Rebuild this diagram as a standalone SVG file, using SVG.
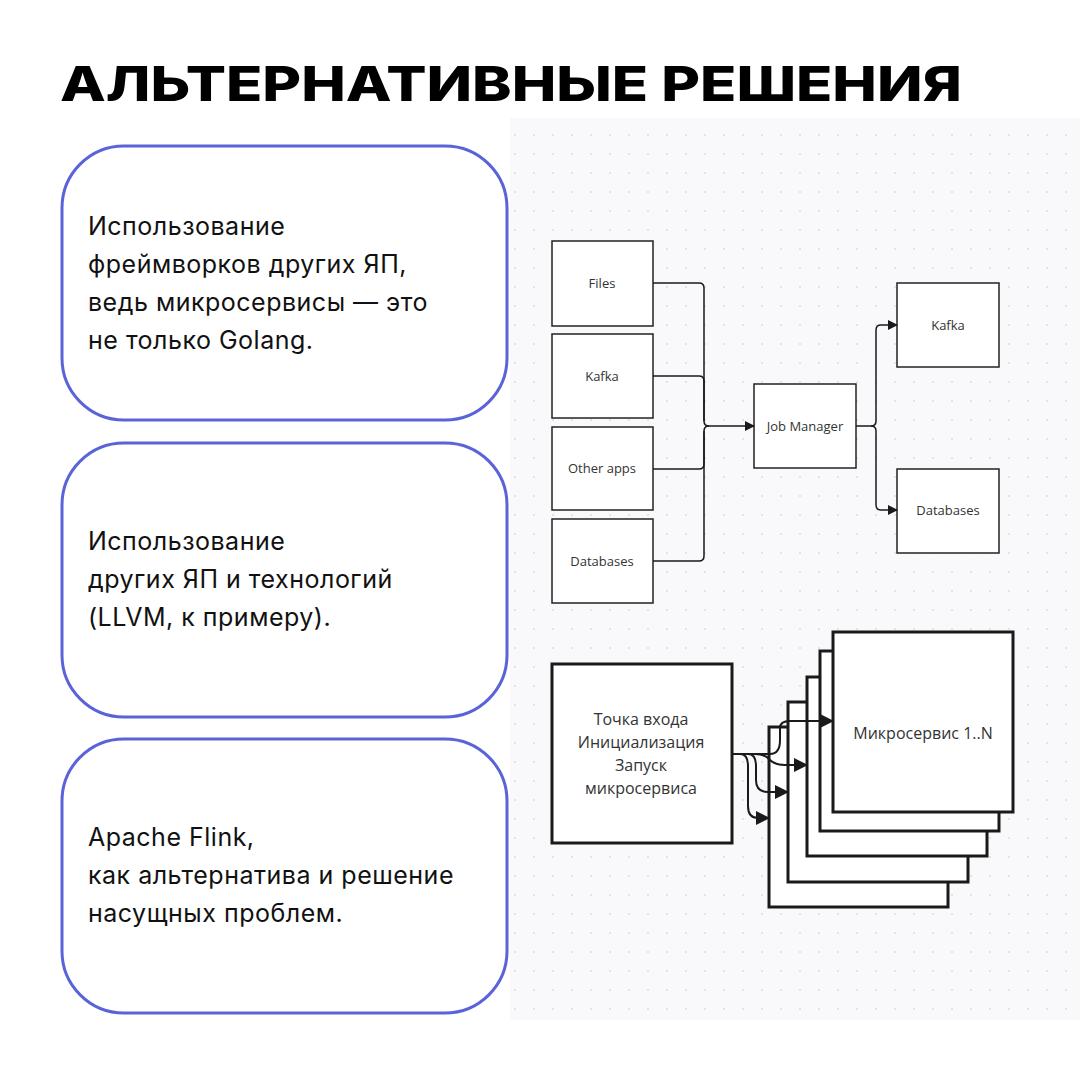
<svg xmlns="http://www.w3.org/2000/svg" width="1080" height="1080" viewBox="0 0 1080 1080">
<defs>
<pattern id="dots" width="19" height="19" patternUnits="userSpaceOnUse"><circle cx="2" cy="2" r="1" fill="#dcdce0"/></pattern>
<marker id="ah" markerWidth="10" markerHeight="10" refX="9" refY="5" orient="auto" markerUnits="userSpaceOnUse"><path d="M0,0 L10,5 L0,10 z" fill="#1a1a1a"/></marker>
<marker id="ah2" markerWidth="14" markerHeight="14" refX="13" refY="7" orient="auto" markerUnits="userSpaceOnUse"><path d="M0,0 L14,7 L0,14 z" fill="#1a1a1a"/></marker>
</defs>
<style>
.card{fill:#fff;stroke:#5a63d8;stroke-width:3}
.ct{font-family:Inter,"Noto Sans",sans-serif;font-size:25px;letter-spacing:0.5px;fill:#111}
.box{fill:#fff;stroke:#222;stroke-width:1.5}
.bt{font-family:"Open Sans","Noto Sans",sans-serif;font-size:13px;fill:#333;text-anchor:middle}
.tbox{fill:#fff;stroke:#1a1a1a;stroke-width:3}
.bt2{font-family:"Open Sans","Noto Sans",sans-serif;font-size:16px;fill:#333;text-anchor:middle}
.c{fill:none;stroke:#1a1a1a;stroke-width:1.5}
.c2{fill:none;stroke:#1a1a1a;stroke-width:2}
</style>
<rect width="1080" height="1080" fill="#fff"/>
<text x="60" y="101" font-family="Inter,'Noto Sans',sans-serif" font-size="48" font-weight="800" fill="#000" textLength="902" lengthAdjust="spacingAndGlyphs">АЛЬТЕРНАТИВНЫЕ РЕШЕНИЯ</text>
<rect x="510" y="118" width="570" height="902" fill="#f9f9fb"/>
<rect x="510" y="118" width="570" height="902" fill="url(#dots)"/>
<g id="card1"><rect class="card" x="62" y="146" width="445" height="274" rx="62"/>
<text class="ct" x="88" y="235">Использование</text><text class="ct" x="88" y="273">фреймворков других ЯП,</text><text class="ct" x="88" y="311">ведь микросервисы — это</text><text class="ct" x="88" y="349">не только Golang.</text></g>
<g id="card2"><rect class="card" x="62" y="443" width="445" height="274" rx="62"/>
<text class="ct" x="88" y="550">Использование</text><text class="ct" x="88" y="588">других ЯП и технологий</text><text class="ct" x="88" y="626">(LLVM, к примеру).</text></g>
<g id="card3"><rect class="card" x="62" y="739" width="445" height="274" rx="62"/>
<text class="ct" x="88" y="846">Apache Flink,</text><text class="ct" x="88" y="884">как альтернатива и решение</text><text class="ct" x="88" y="922">насущных проблем.</text></g>
<g id="src-files"><rect class="box" x="552" y="241" width="101" height="85"/><text class="bt" x="602" y="288">Files</text></g>
<g id="src-kafka"><rect class="box" x="552" y="334" width="101" height="84"/><text class="bt" x="602" y="381">Kafka</text></g>
<g id="src-apps"><rect class="box" x="552" y="427" width="101" height="83"/><text class="bt" x="602" y="473">Other apps</text></g>
<g id="src-db"><rect class="box" x="552" y="519" width="101" height="84"/><text class="bt" x="602" y="566">Databases</text></g>
<g id="jobmanager"><rect class="box" x="754" y="384" width="102" height="84"/><text class="bt" x="805" y="431">Job Manager</text></g>
<g id="out-kafka"><rect class="box" x="897" y="283" width="102" height="84"/><text class="bt" x="948" y="330">Kafka</text></g>
<g id="out-db"><rect class="box" x="897" y="469" width="102" height="84"/><text class="bt" x="948" y="515">Databases</text></g>
<g id="entry"><rect class="tbox" x="552" y="664" width="180" height="179"/>
<text class="bt2" x="641" y="725">Точка входа</text><text class="bt2" x="641" y="748">Инициализация</text><text class="bt2" x="641" y="771">Запуск</text><text class="bt2" x="641" y="794">микросервиса</text></g>
<g id="microservices">
<rect class="tbox" x="769" y="727" width="179" height="180"/>
<rect class="tbox" x="788" y="702" width="180" height="180"/>
<rect class="tbox" x="807" y="677" width="180" height="179"/>
<rect class="tbox" x="820" y="651" width="179" height="180"/>
<rect class="tbox" x="833" y="632" width="180" height="180"/>
<text class="bt2" x="923" y="739">Микросервис 1..N</text>
</g>
<g id="connectors">
<path class="c" d="M653,283 H699 Q704,283 704,288 V421 Q704,426 709,426 H754" marker-end="url(#ah)"/>
<path class="c" d="M653,376 H699 Q704,376 704,381 V421"/>
<path class="c" d="M653,469 H699 Q704,469 704,464 V431 Q704,426 709,426"/>
<path class="c" d="M653,561 H699 Q704,561 704,556 V431"/>
<path class="c" d="M856,426 H871 Q876,426 876,421 V330 Q876,325 881,325 H897" marker-end="url(#ah)"/>
<path class="c" d="M871,426 Q876,426 876,431 V505 Q876,510 881,510 H897" marker-end="url(#ah)"/>
<path class="c2" d="M732,754 H770 Q780,754 780,740 V728 Q780,721 790,721 H833" marker-end="url(#ah2)"/>
<path class="c2" d="M732,754 H755 Q765,754 770,760 Q775,765 785,765 H807" marker-end="url(#ah2)"/>
<path class="c2" d="M732,754 H748 Q756,754 756,766 V780 Q756,792 768,792 H788" marker-end="url(#ah2)"/>
<path class="c2" d="M732,754 H740 Q748,754 748,766 V806 Q748,818 758,818 H769" marker-end="url(#ah2)"/>
</g>
</svg>
